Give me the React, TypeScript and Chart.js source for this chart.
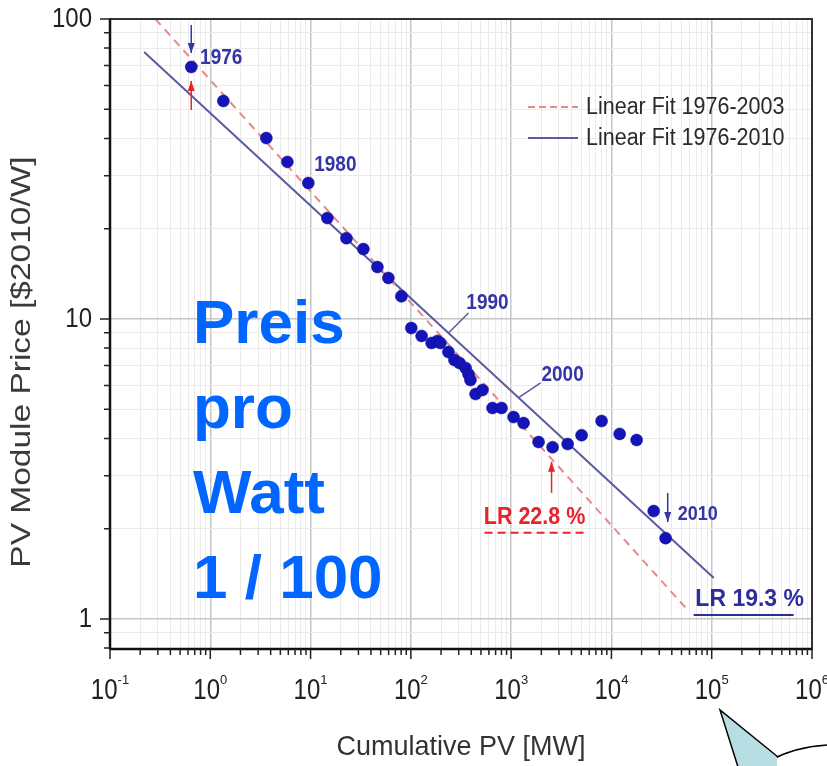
import React, { useEffect, useRef } from "react";
import { Chart, registerables } from "chart.js";

Chart.register(...registerables);

// ---- data ----
const cumulativeMW = [
  0.646, 1.35, 3.62, 5.87, 9.5, 14.7, 22.8, 33.6, 46.4, 59.7, 80.5, 101, 128, 161, 184, 197,
  237, 272, 306, 351, 376, 393, 442, 518, 652, 802, 1057, 1330, 1877, 2590, 3660, 5040, 7980,
  12080, 17830, 26400, 34700,
];
const priceUSD = [
  69.2, 53.3, 40.1, 33.4, 28.4, 21.7, 18.6, 17.1, 14.9, 13.7, 11.9, 9.33, 8.78, 8.32, 8.45, 8.32,
  7.76, 7.3, 7.13, 6.87, 6.55, 6.26, 5.62, 5.8, 5.05, 5.05, 4.71, 4.5, 3.89, 3.74, 3.83, 4.1, 4.57,
  4.14, 3.95, 2.29, 1.86,
];
const fit2003X = [0.283, 55000];
const fit2003Y = [100, 1.09];
const fit2010X = [0.219, 105000];
const fit2010Y = [77.6, 1.37];

const xTickExponents = [-1, 0, 1, 2, 3, 4, 5, 6];
const yTickLabels = [1, 10, 100];
const legendLabels = ["Linear Fit 1976-2003", "Linear Fit 1976-2010"];
const overlayLines = ["Preis", "pro", "Watt", "1 / 100"];

const X_MIN = 0.1;
const X_MAX = 1e6;
const Y_MIN = Math.pow(10, -0.1);
const Y_MAX = 100;

const FONT = "'Liberation Sans', Arial, Helvetica, sans-serif";
const ANN_BLUE = "#3535a6";
const FIT_BLUE = "#5a5aa0";
const FIT_RED = "#e58a8a";
const LR_RED = "#e8242a";

function isMajor(v: number) {
  const l = Math.log10(v);
  return Math.abs(l - Math.round(l)) < 1e-6;
}

function logTicks(min: number, max: number) {
  const out: number[] = [];
  for (let k = -2; k <= 6; k++) {
    for (let m = 1; m <= 9; m++) {
      const v = m * Math.pow(10, k);
      if (v >= min * 0.9999 && v <= max * 1.0001) out.push(v);
    }
  }
  return out;
}

function drawText(
  ctx: CanvasRenderingContext2D,
  text: string,
  x: number,
  y: number,
  font: string,
  color: string,
  align: CanvasTextAlign = "center",
  sx = 1,
  sy = 1
) {
  ctx.save();
  ctx.translate(x, y);
  ctx.scale(sx, sy);
  ctx.font = font;
  ctx.fillStyle = color;
  ctx.textAlign = align;
  ctx.textBaseline = "middle";
  ctx.fillText(text, 0, 0);
  ctx.restore();
}

function arrow(
  ctx: CanvasRenderingContext2D,
  x1: number,
  y1: number,
  x2: number,
  y2: number,
  color: string
) {
  ctx.save();
  ctx.strokeStyle = color;
  ctx.fillStyle = color;
  ctx.lineWidth = 1.5;
  ctx.beginPath();
  ctx.moveTo(x1, y1);
  ctx.lineTo(x2, y2);
  ctx.stroke();
  const dir = Math.sign(y2 - y1) || 1;
  ctx.beginPath();
  ctx.moveTo(x2, y2);
  ctx.lineTo(x2 - 3.5, y2 - dir * 10);
  ctx.lineTo(x2 + 3.5, y2 - dir * 10);
  ctx.closePath();
  ctx.fill();
  ctx.restore();
}

// value on the 1976-2010 fit (log-log straight line)
function fit2010At(x: number) {
  const lx1 = Math.log10(fit2010X[0]);
  const lx2 = Math.log10(fit2010X[1]);
  const ly1 = Math.log10(fit2010Y[0]);
  const ly2 = Math.log10(fit2010Y[1]);
  const t = (Math.log10(x) - lx1) / (lx2 - lx1);
  return Math.pow(10, ly1 + t * (ly2 - ly1));
}

const decorPlugin = {
  id: "decor",
  afterDraw(chart: any) {
    const ctx: CanvasRenderingContext2D = chart.ctx;
    const a = chart.chartArea;
    const xs = chart.scales.x;
    const ys = chart.scales.y;
    const X = (v: number) => xs.getPixelForValue(v);
    const Y = (v: number) => ys.getPixelForValue(v);

    // frame
    ctx.save();
    ctx.strokeStyle = "#333";
    ctx.lineWidth = 2;
    ctx.strokeRect(a.left, a.top, a.right - a.left, a.bottom - a.top);
    ctx.strokeStyle = "#111";
    ctx.lineWidth = 2.5;
    ctx.beginPath();
    ctx.moveTo(a.left, a.bottom);
    ctx.lineTo(a.right, a.bottom);
    ctx.moveTo(a.left, a.top);
    ctx.lineTo(a.left, a.bottom);
    ctx.stroke();

    // tick marks
    ctx.strokeStyle = "#222";
    ctx.lineWidth = 1.5;
    ctx.beginPath();
    for (const t of xs.ticks) {
      const p = X(t.value);
      const len = isMajor(t.value) ? 10 : 6;
      ctx.moveTo(p, a.bottom);
      ctx.lineTo(p, a.bottom + len);
    }
    for (const t of ys.ticks) {
      const p = Y(t.value);
      const len = isMajor(t.value) ? 10 : 6;
      ctx.moveTo(a.left, p);
      ctx.lineTo(a.left - len, p);
    }
    ctx.stroke();
    ctx.restore();

    // y tick labels
    for (const v of yTickLabels) {
      drawText(ctx, String(v), a.left - 18, Y(v), `24px ${FONT}`, "#222", "right", 1, 1.18);
    }
    // x tick labels 10^n
    for (const e of xTickExponents) {
      const p = X(Math.pow(10, e));
      ctx.save();
      ctx.font = `24px ${FONT}`;
      const wBase = ctx.measureText("10").width;
      ctx.font = `13px ${FONT}`;
      const wExp = ctx.measureText(String(e)).width;
      ctx.restore();
      const start = p - (wBase + wExp) / 2;
      drawText(ctx, "10", start, a.bottom + 42, `24px ${FONT}`, "#222", "left", 1, 1.2);
      drawText(ctx, String(e), start + wBase, a.bottom + 31, `13px ${FONT}`, "#222", "left");
    }

    // axis titles
    drawText(ctx, "Cumulative PV [MW]", (a.left + a.right) / 2, 747, `27px ${FONT}`, "#333", "center", 1, 1.05);
    ctx.save();
    ctx.translate(23, 362);
    ctx.rotate(-Math.PI / 2);
    drawText(ctx, "PV Module Price [$2010/W]", 0, 0, `27px ${FONT}`, "#3a3a3a", "center", 1.24, 1);
    ctx.restore();

    // legend
    ctx.save();
    ctx.lineWidth = 2;
    ctx.strokeStyle = FIT_RED;
    ctx.setLineDash([7, 4]);
    ctx.beginPath();
    ctx.moveTo(528, 107);
    ctx.lineTo(578, 107);
    ctx.stroke();
    ctx.setLineDash([]);
    ctx.strokeStyle = FIT_BLUE;
    ctx.beginPath();
    ctx.moveTo(528, 138);
    ctx.lineTo(578, 138);
    ctx.stroke();
    ctx.restore();
    drawText(ctx, legendLabels[0], 586, 107, `21.5px ${FONT}`, "#2a2a2a", "left", 1, 1.1);
    drawText(ctx, legendLabels[1], 586, 138, `21.5px ${FONT}`, "#2a2a2a", "left", 1, 1.1);

    // year annotations
    const p0x = X(cumulativeMW[0]);
    const p0y = Y(priceUSD[0]);
    drawText(ctx, "1976", p0x + 30, p0y - 9, `bold 19px ${FONT}`, ANN_BLUE, "center", 1, 1.15);
    arrow(ctx, p0x, p0y - 42, p0x, p0y - 14, ANN_BLUE);
    arrow(ctx, p0x, p0y + 43, p0x, p0y + 14, LR_RED);

    const p4x = X(cumulativeMW[4]);
    const p4y = Y(priceUSD[4]);
    drawText(ctx, "1980", p4x + 27, p4y - 18, `bold 19px ${FONT}`, ANN_BLUE, "center", 1, 1.15);

    // 1990 label with leader to fit line
    {
      const lx = 237;
      const sx = X(lx);
      const sy = Y(fit2010At(lx));
      const tx = X(581);
      const ty = Y(11.3);
      ctx.save();
      ctx.strokeStyle = FIT_BLUE;
      ctx.lineWidth = 1.5;
      ctx.beginPath();
      ctx.moveTo(sx, sy);
      ctx.lineTo(tx - 19, ty + 10);
      ctx.stroke();
      ctx.restore();
      drawText(ctx, "1990", tx, ty, `bold 19px ${FONT}`, ANN_BLUE, "center", 1, 1.15);
    }
    {
      const lx = 1186;
      const sx = X(lx);
      const sy = Y(fit2010At(lx));
      const tx = X(3260);
      const ty = Y(6.51);
      ctx.save();
      ctx.strokeStyle = FIT_BLUE;
      ctx.lineWidth = 1.5;
      ctx.beginPath();
      ctx.moveTo(sx, sy);
      ctx.lineTo(tx - 22, ty + 8);
      ctx.stroke();
      ctx.restore();
      drawText(ctx, "2000", tx, ty, `bold 19px ${FONT}`, ANN_BLUE, "center", 1, 1.15);
    }

    // 2010
    const p35x = X(cumulativeMW[35]);
    const p35y = Y(priceUSD[35]);
    arrow(ctx, p35x + 14, p35y - 18, p35x + 14, p35y + 11, ANN_BLUE);
    drawText(ctx, "2010", p35x + 44, p35y + 3, `bold 18px ${FONT}`, ANN_BLUE, "center", 1, 1.15);

    // LR 22.8 %
    {
      const cx = X(1712);
      const cy = Y(2.19);
      drawText(ctx, "LR 22.8 %", cx, cy, `bold 21.5px ${FONT}`, LR_RED, "center", 1, 1.15);
      ctx.save();
      ctx.strokeStyle = LR_RED;
      ctx.lineWidth = 2;
      ctx.setLineDash([8, 5]);
      ctx.beginPath();
      ctx.moveTo(cx - 50, cy + 16);
      ctx.lineTo(cx + 50, cy + 16);
      ctx.stroke();
      ctx.restore();
      arrow(ctx, cx + 17, cy - 24, cx + 17, cy - 55, LR_RED);
    }
    // LR 19.3 %
    {
      const cx = X(239000);
      const cy = Y(1.166);
      drawText(ctx, "LR 19.3 %", cx, cy, `bold 23px ${FONT}`, "#2d2d9c", "center", 1, 1.05);
      ctx.save();
      ctx.strokeStyle = "#2d2d9c";
      ctx.lineWidth = 2;
      ctx.beginPath();
      ctx.moveTo(cx - 56, cy + 16);
      ctx.lineTo(cx + 44, cy + 16);
      ctx.stroke();
      ctx.restore();
    }

    // overlay text
    const base = [343, 428, 513, 598];
    overlayLines.forEach((t, i) => {
      ctx.save();
      ctx.font = `bold 62px ${FONT}`;
      ctx.fillStyle = "#0066ff";
      ctx.textAlign = "left";
      ctx.textBaseline = "alphabetic";
      ctx.fillText(t, 193, base[i]);
      ctx.restore();
    });

    // callout pointer
    ctx.save();
    ctx.fillStyle = "#ffffff";
    ctx.strokeStyle = "#000";
    ctx.lineWidth = 1.5;
    ctx.beginPath();
    ctx.ellipse(840, 800, 100, 55.5, 0, 0, Math.PI * 2);
    ctx.fill();
    ctx.stroke();
    ctx.fillStyle = "#b7dfe3";
    ctx.beginPath();
    ctx.moveTo(720, 710);
    ctx.lineTo(738, 767);
    ctx.lineTo(777, 767);
    ctx.lineTo(777, 757);
    ctx.closePath();
    ctx.fill();
    ctx.beginPath();
    ctx.moveTo(738, 767);
    ctx.lineTo(720, 710);
    ctx.lineTo(778, 757);
    ctx.stroke();
    ctx.restore();
  },
};

export default function App() {
  const ref = useRef<HTMLCanvasElement | null>(null);

  useEffect(() => {
    if (!ref.current) return;
    const xTicks = logTicks(X_MIN, X_MAX);
    const yTicks = logTicks(Y_MIN, Y_MAX);
    const gridColor = (c: any) => (c.tick && isMajor(c.tick.value) ? "#c6c6c6" : "#ebebeb");
    const gridWidth = (c: any) => (c.tick && isMajor(c.tick.value) ? 1.5 : 1);

    const chart = new Chart(ref.current, {
      type: "scatter",
      data: {
        datasets: [
          {
            label: "PV module price",
            data: cumulativeMW.map((x, i) => ({ x, y: priceUSD[i] })),
            pointRadius: 6,
            pointBackgroundColor: "#1414b8",
            pointBorderColor: "#0a0a88",
            pointBorderWidth: 0.5,
          },
          {
            label: legendLabels[0],
            data: fit2003X.map((x, i) => ({ x, y: fit2003Y[i] })),
            showLine: true,
            borderColor: FIT_RED,
            borderDash: [8, 6],
            borderWidth: 2,
            pointRadius: 0,
          },
          {
            label: legendLabels[1],
            data: fit2010X.map((x, i) => ({ x, y: fit2010Y[i] })),
            showLine: true,
            borderColor: FIT_BLUE,
            borderWidth: 2,
            pointRadius: 0,
          },
        ],
      } as any,
      options: {
        responsive: false,
        animation: false,
        events: [],
        layout: { padding: { left: 110, right: 15, top: 19, bottom: 117 } },
        plugins: { legend: { display: false }, tooltip: { enabled: false } },
        scales: {
          x: {
            type: "logarithmic",
            min: X_MIN,
            max: X_MAX,
            afterBuildTicks: (s: any) => {
              s.ticks = xTicks.map((v) => ({ value: v, major: isMajor(v) }));
            },
            afterFit: (s: any) => {
              s.height = 0;
            },
            ticks: { display: false },
            grid: { color: gridColor, lineWidth: gridWidth, drawTicks: false },
            border: { display: false },
          },
          y: {
            type: "logarithmic",
            min: Y_MIN,
            max: Y_MAX,
            afterBuildTicks: (s: any) => {
              s.ticks = yTicks.map((v) => ({ value: v, major: isMajor(v) }));
            },
            afterFit: (s: any) => {
              s.width = 0;
            },
            ticks: { display: false },
            grid: { color: gridColor, lineWidth: gridWidth, drawTicks: false },
            border: { display: false },
          },
        },
      } as any,
      plugins: [decorPlugin],
    });
    return () => chart.destroy();
  }, []);

  return (
    <div style={{ position: "absolute", left: 0, top: 0, width: 827, height: 766, background: "#fff" }}>
      <canvas ref={ref} width={827} height={766} style={{ display: "block" }} />
    </div>
  );
}
